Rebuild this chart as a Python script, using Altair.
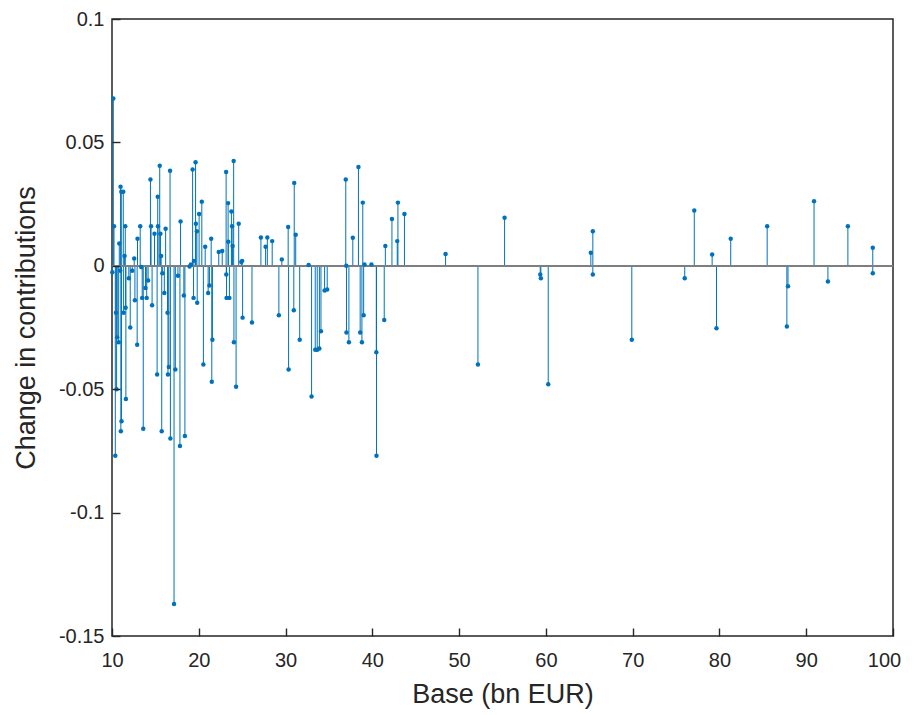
import altair as alt
import pandas as pd

# stem positions (bn EUR) and changes in contributions
base_x = [
    10.04, 10.15, 10.23, 10.38, 10.46, 10.53, 10.60, 10.77, 10.84, 10.95,
    10.99, 11.02, 11.07, 11.10, 11.30, 11.34, 11.45, 11.53, 11.57, 11.60,
    11.94, 12.10, 12.33, 12.56, 12.64, 12.90, 12.94, 13.25, 13.37, 13.48,
    13.60, 13.86, 14.00, 14.16, 14.43, 14.50, 14.62, 14.90, 15.20, 15.27,
    15.30, 15.50, 15.58, 15.66, 15.73, 15.80, 16.03, 16.18, 16.40, 16.45,
    16.55, 16.69, 16.73, 17.15, 17.30, 17.60, 17.83, 17.90, 18.28, 18.40,
    18.94, 19.10, 19.29, 19.40, 19.44, 19.63, 19.67, 19.78, 19.82, 20.04,
    20.35, 20.53, 20.74, 21.08, 21.23, 21.43, 21.50, 21.57, 22.30, 22.70,
    23.15, 23.17, 23.20, 23.38, 23.40, 23.53, 23.76, 23.84, 23.90, 24.02,
    24.05, 24.30, 24.60, 24.90, 25.00, 25.05, 26.13, 27.16, 27.70, 27.90,
    28.46, 29.23, 29.57, 30.30, 30.35, 30.95, 31.00, 31.17, 31.63, 32.66,
    33.00, 33.42, 33.65, 33.90, 34.08, 34.50, 34.80, 36.94, 37.00, 37.02,
    37.30, 37.75, 38.40, 38.60, 38.80, 38.90, 39.00, 39.10, 39.90, 40.46,
    40.48, 41.37, 41.50, 42.26, 42.87, 42.95, 43.70,
    48.44, 52.17, 55.24, 59.35, 59.42, 60.27, 65.18, 65.41, 65.41, 69.90,
    76.00, 77.10, 79.16, 79.66, 81.30, 85.50, 87.77, 87.90, 90.90, 92.50,
    94.80, 97.67, 97.67,
]
change = [
    -0.0026, 0.0678, 0.0160, -0.0770, -0.0190, -0.0500, -0.0290, -0.0310, 0.0090, -0.0020,
    0.0320, -0.0670, 0.0300, -0.0630, 0.0300, -0.0190, 0.0040, 0.0160, -0.0170, -0.0540,
    -0.0050, -0.0250, -0.0020, 0.0030, -0.0140, -0.0320, 0.0110, 0.0160, -0.0005, -0.0130,
    -0.0660, -0.0090, -0.0130, -0.0060, 0.0350, 0.0160, -0.0160, 0.0130, -0.0440, 0.0280,
    0.0160, 0.0405, 0.0130, 0.0040, -0.0670, -0.0030, -0.0110, 0.0150, -0.0190, -0.0440,
    -0.0410, 0.0385, -0.0700, -0.1370, -0.0420, -0.0040, -0.0730, 0.0180, -0.0120, -0.0690,
    -0.0003, 0.0005, 0.0390, -0.0130, 0.0020, 0.0420, 0.0170, 0.0140, -0.0150, 0.0210,
    0.0260, -0.0400, 0.0077, -0.0110, -0.0080, 0.0110, -0.0470, -0.0300, 0.0056, 0.0060,
    0.0380, -0.0035, -0.0130, 0.0254, 0.0097, -0.0130, 0.0220, 0.0160, 0.0080, 0.0425,
    -0.0310, -0.0490, 0.0170, 0.0015, 0.0020, -0.0210, -0.0230, 0.0115, 0.0077, 0.0115,
    0.0100, -0.0200, 0.0026, 0.0157, -0.0420, -0.0180, 0.0336, 0.0126, -0.0300, 0.0003,
    -0.0530, -0.0340, -0.0340, -0.0335, -0.0265, -0.0100, -0.0096, 0.0350, 0.0000, -0.0270,
    -0.0310, 0.0114, 0.0400, -0.0270, -0.0310, 0.0256, -0.0200, 0.0005, 0.0005, -0.0350,
    -0.0770, -0.0220, 0.0080, 0.0190, 0.0100, 0.0256, 0.0210,
    0.0048, -0.0400, 0.0195, -0.0035, -0.0050, -0.0480, 0.0053, 0.0140, -0.0035, -0.0300,
    -0.0050, 0.0224, 0.0046, -0.0253, 0.0110, 0.0160, -0.0246, -0.0083, 0.0262, -0.0064,
    0.0160, 0.0073, -0.0030,
]

x_ticks = [10, 20, 30, 40, 50, 60, 70, 80, 90, 100]
y_ticks = [-0.15, -0.1, -0.05, 0, 0.05, 0.1]

df = pd.DataFrame({"x": base_x, "y": change})

W, H = 781, 617
FONT = "Liberation Sans"
BLUE = "#0072BD"
DARK = "#262626"

xscale = alt.Scale(domain=[10, 100], nice=False, zero=False)
yscale = alt.Scale(domain=[-0.15, 0.1], nice=False, zero=False)

xaxis = alt.Axis(values=x_ticks, title="Base (bn EUR)", grid=False, domain=False,
                 ticks=True, tickSize=8, tickWidth=1.4, tickColor=DARK, offset=-8,
                 zindex=2,
                 labelOffset=alt.condition("datum.value == 100", alt.value(-9), alt.value(0)),
                 labelFlush=False, labelPadding=14, labelFontSize=20, titleFontSize=27,
                 titlePadding=11, labelColor=DARK, titleColor=DARK, labelFont=FONT,
                 titleFont=FONT, titleFontWeight="normal")
yaxis = alt.Axis(values=y_ticks, title="Change in contributions", grid=False, domain=False,
                 ticks=True, tickSize=8, tickWidth=1.4, tickColor=DARK, offset=-8,
                 zindex=2,
                 labelFlush=False, labelPadding=8, labelFontSize=20, titleFontSize=27,
                 titlePadding=18, labelColor=DARK, titleColor=DARK, labelFont=FONT,
                 titleFont=FONT, titleFontWeight="normal",
                 labelExpr="'' + datum.value")

stems = alt.Chart(df).mark_rule(color=BLUE, strokeWidth=1).encode(
    x=alt.X("x:Q", scale=xscale, axis=xaxis),
    y=alt.Y("y:Q", scale=yscale, axis=yaxis),
    y2=alt.datum(0),
)

baseline = alt.Chart(df).mark_rule(color="#7f7f7f", strokeWidth=1.5).encode(
    y=alt.Y(datum=0, type="quantitative", scale=yscale),
)

points = alt.Chart(df).mark_circle(color=BLUE, size=20, opacity=1).encode(
    x=alt.X("x:Q", scale=xscale),
    y=alt.Y("y:Q", scale=yscale),
)

chart = alt.layer(stems, baseline, points).properties(
    width=W, height=H,
    autosize=alt.AutoSizeParams(type="none"),
    padding={"left": 104, "top": 11, "right": 16, "bottom": 80},
    background="white",
).configure_view(stroke=DARK, strokeWidth=1.5)

chart.save("out.html", embed_options={"renderer": "svg", "actions": False})
